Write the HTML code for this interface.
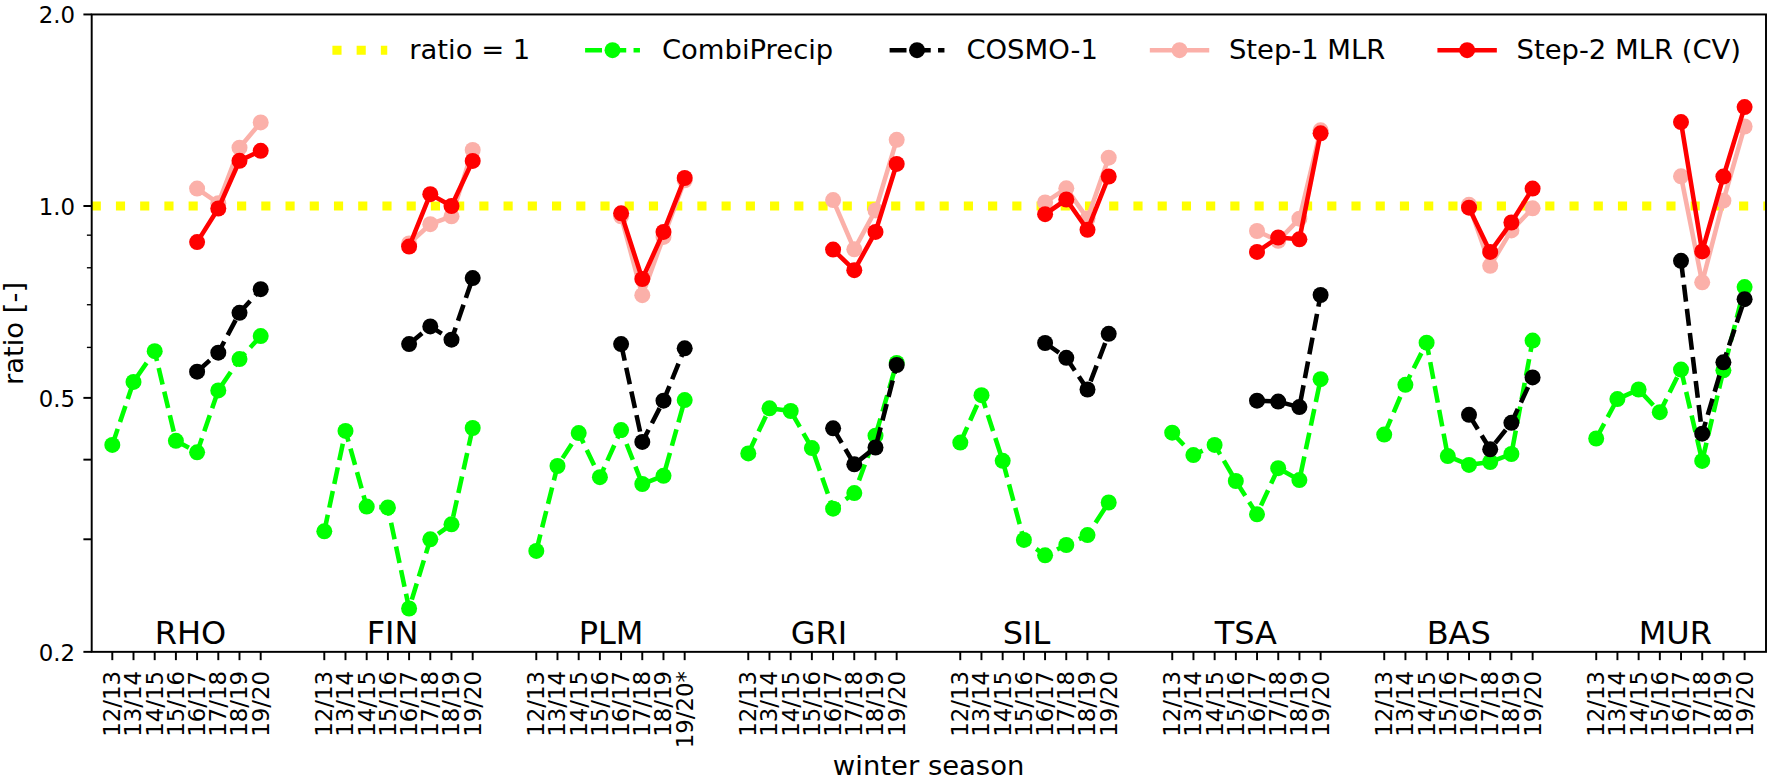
<!DOCTYPE html>
<html><head><meta charset="utf-8"><title>ratio by winter season</title>
<style>html,body{margin:0;padding:0;background:#fff;}body{width:1772px;height:781px;overflow:hidden;}svg{display:block;}</style>
</head><body>
<svg width="1772" height="781" viewBox="0 0 1772 781" font-family='"DejaVu Sans", "Liberation Sans", sans-serif' fill="#000">
<rect width="1772" height="781" fill="#fff"/>
<g id="plot">
<line x1="91.70" y1="206.0" x2="1766.00" y2="206.0" stroke="#ffff00" stroke-width="9.142" stroke-dasharray="9.142 15.084"/>
<polyline points="112.3,444.9 133.5,381.9 154.7,351.2 175.9,440.8 197.1,452.3 218.3,390.4 239.5,359.1 260.7,336.1" fill="none" stroke="#00ff00" stroke-width="4.571" stroke-linejoin="round" stroke-linecap="butt" stroke-dasharray="16.91 7.31"/>
<circle cx="112.3" cy="444.9" r="8.00" fill="#00ff00"/>
<circle cx="133.5" cy="381.9" r="8.00" fill="#00ff00"/>
<circle cx="154.7" cy="351.2" r="8.00" fill="#00ff00"/>
<circle cx="175.9" cy="440.8" r="8.00" fill="#00ff00"/>
<circle cx="197.1" cy="452.3" r="8.00" fill="#00ff00"/>
<circle cx="218.3" cy="390.4" r="8.00" fill="#00ff00"/>
<circle cx="239.5" cy="359.1" r="8.00" fill="#00ff00"/>
<circle cx="260.7" cy="336.1" r="8.00" fill="#00ff00"/>
<polyline points="324.3,531.3 345.5,430.9 366.7,506.6 387.9,507.5 409.1,608.5 430.3,539.3 451.5,524.3 472.7,428.0" fill="none" stroke="#00ff00" stroke-width="4.571" stroke-linejoin="round" stroke-linecap="butt" stroke-dasharray="16.91 7.31"/>
<circle cx="324.3" cy="531.3" r="8.00" fill="#00ff00"/>
<circle cx="345.5" cy="430.9" r="8.00" fill="#00ff00"/>
<circle cx="366.7" cy="506.6" r="8.00" fill="#00ff00"/>
<circle cx="387.9" cy="507.5" r="8.00" fill="#00ff00"/>
<circle cx="409.1" cy="608.5" r="8.00" fill="#00ff00"/>
<circle cx="430.3" cy="539.3" r="8.00" fill="#00ff00"/>
<circle cx="451.5" cy="524.3" r="8.00" fill="#00ff00"/>
<circle cx="472.7" cy="428.0" r="8.00" fill="#00ff00"/>
<polyline points="536.3,550.9 557.5,466.0 578.7,433.1 599.9,477.2 621.1,430.1 642.3,484.0 663.5,475.8 684.7,400.1" fill="none" stroke="#00ff00" stroke-width="4.571" stroke-linejoin="round" stroke-linecap="butt" stroke-dasharray="16.91 7.31"/>
<circle cx="536.3" cy="550.9" r="8.00" fill="#00ff00"/>
<circle cx="557.5" cy="466.0" r="8.00" fill="#00ff00"/>
<circle cx="578.7" cy="433.1" r="8.00" fill="#00ff00"/>
<circle cx="599.9" cy="477.2" r="8.00" fill="#00ff00"/>
<circle cx="621.1" cy="430.1" r="8.00" fill="#00ff00"/>
<circle cx="642.3" cy="484.0" r="8.00" fill="#00ff00"/>
<circle cx="663.5" cy="475.8" r="8.00" fill="#00ff00"/>
<circle cx="684.7" cy="400.1" r="8.00" fill="#00ff00"/>
<polyline points="748.3,453.4 769.5,408.3 790.7,411.0 811.9,448.1 833.1,508.7 854.3,493.1 875.5,435.7 896.7,363.0" fill="none" stroke="#00ff00" stroke-width="4.571" stroke-linejoin="round" stroke-linecap="butt" stroke-dasharray="16.91 7.31"/>
<circle cx="748.3" cy="453.4" r="8.00" fill="#00ff00"/>
<circle cx="769.5" cy="408.3" r="8.00" fill="#00ff00"/>
<circle cx="790.7" cy="411.0" r="8.00" fill="#00ff00"/>
<circle cx="811.9" cy="448.1" r="8.00" fill="#00ff00"/>
<circle cx="833.1" cy="508.7" r="8.00" fill="#00ff00"/>
<circle cx="854.3" cy="493.1" r="8.00" fill="#00ff00"/>
<circle cx="875.5" cy="435.7" r="8.00" fill="#00ff00"/>
<circle cx="896.7" cy="363.0" r="8.00" fill="#00ff00"/>
<polyline points="960.3,442.6 981.5,395.2 1002.7,460.8 1023.9,539.9 1045.1,555.3 1066.3,545.0 1087.5,535.1 1108.7,502.5" fill="none" stroke="#00ff00" stroke-width="4.571" stroke-linejoin="round" stroke-linecap="butt" stroke-dasharray="16.91 7.31"/>
<circle cx="960.3" cy="442.6" r="8.00" fill="#00ff00"/>
<circle cx="981.5" cy="395.2" r="8.00" fill="#00ff00"/>
<circle cx="1002.7" cy="460.8" r="8.00" fill="#00ff00"/>
<circle cx="1023.9" cy="539.9" r="8.00" fill="#00ff00"/>
<circle cx="1045.1" cy="555.3" r="8.00" fill="#00ff00"/>
<circle cx="1066.3" cy="545.0" r="8.00" fill="#00ff00"/>
<circle cx="1087.5" cy="535.1" r="8.00" fill="#00ff00"/>
<circle cx="1108.7" cy="502.5" r="8.00" fill="#00ff00"/>
<polyline points="1172.2,432.7 1193.4,455.1 1214.6,444.9 1235.8,481.0 1257.0,514.3 1278.2,468.2 1299.4,480.1 1320.6,379.2" fill="none" stroke="#00ff00" stroke-width="4.571" stroke-linejoin="round" stroke-linecap="butt" stroke-dasharray="16.91 7.31"/>
<circle cx="1172.2" cy="432.7" r="8.00" fill="#00ff00"/>
<circle cx="1193.4" cy="455.1" r="8.00" fill="#00ff00"/>
<circle cx="1214.6" cy="444.9" r="8.00" fill="#00ff00"/>
<circle cx="1235.8" cy="481.0" r="8.00" fill="#00ff00"/>
<circle cx="1257.0" cy="514.3" r="8.00" fill="#00ff00"/>
<circle cx="1278.2" cy="468.2" r="8.00" fill="#00ff00"/>
<circle cx="1299.4" cy="480.1" r="8.00" fill="#00ff00"/>
<circle cx="1320.6" cy="379.2" r="8.00" fill="#00ff00"/>
<polyline points="1384.2,434.6 1405.4,384.8 1426.6,342.7 1447.8,456.1 1469.0,464.9 1490.2,462.0 1511.4,454.0 1532.6,340.6" fill="none" stroke="#00ff00" stroke-width="4.571" stroke-linejoin="round" stroke-linecap="butt" stroke-dasharray="16.91 7.31"/>
<circle cx="1384.2" cy="434.6" r="8.00" fill="#00ff00"/>
<circle cx="1405.4" cy="384.8" r="8.00" fill="#00ff00"/>
<circle cx="1426.6" cy="342.7" r="8.00" fill="#00ff00"/>
<circle cx="1447.8" cy="456.1" r="8.00" fill="#00ff00"/>
<circle cx="1469.0" cy="464.9" r="8.00" fill="#00ff00"/>
<circle cx="1490.2" cy="462.0" r="8.00" fill="#00ff00"/>
<circle cx="1511.4" cy="454.0" r="8.00" fill="#00ff00"/>
<circle cx="1532.6" cy="340.6" r="8.00" fill="#00ff00"/>
<polyline points="1596.2,438.5 1617.4,399.1 1638.6,389.5 1659.8,412.2 1681.0,369.6 1702.2,460.9 1723.4,370.3 1744.6,287.1" fill="none" stroke="#00ff00" stroke-width="4.571" stroke-linejoin="round" stroke-linecap="butt" stroke-dasharray="16.91 7.31"/>
<circle cx="1596.2" cy="438.5" r="8.00" fill="#00ff00"/>
<circle cx="1617.4" cy="399.1" r="8.00" fill="#00ff00"/>
<circle cx="1638.6" cy="389.5" r="8.00" fill="#00ff00"/>
<circle cx="1659.8" cy="412.2" r="8.00" fill="#00ff00"/>
<circle cx="1681.0" cy="369.6" r="8.00" fill="#00ff00"/>
<circle cx="1702.2" cy="460.9" r="8.00" fill="#00ff00"/>
<circle cx="1723.4" cy="370.3" r="8.00" fill="#00ff00"/>
<circle cx="1744.6" cy="287.1" r="8.00" fill="#00ff00"/>
<polyline points="197.1,371.7 218.3,352.7 239.5,312.8 260.7,289.2" fill="none" stroke="#000000" stroke-width="4.571" stroke-linejoin="round" stroke-linecap="butt" stroke-dasharray="16.91 7.31"/>
<circle cx="197.1" cy="371.7" r="8.00" fill="#000000"/>
<circle cx="218.3" cy="352.7" r="8.00" fill="#000000"/>
<circle cx="239.5" cy="312.8" r="8.00" fill="#000000"/>
<circle cx="260.7" cy="289.2" r="8.00" fill="#000000"/>
<polyline points="409.1,344.1 430.3,326.4 451.5,339.7 472.7,278.1" fill="none" stroke="#000000" stroke-width="4.571" stroke-linejoin="round" stroke-linecap="butt" stroke-dasharray="16.91 7.31"/>
<circle cx="409.1" cy="344.1" r="8.00" fill="#000000"/>
<circle cx="430.3" cy="326.4" r="8.00" fill="#000000"/>
<circle cx="451.5" cy="339.7" r="8.00" fill="#000000"/>
<circle cx="472.7" cy="278.1" r="8.00" fill="#000000"/>
<polyline points="621.1,344.1 642.3,441.9 663.5,400.7 684.7,348.3" fill="none" stroke="#000000" stroke-width="4.571" stroke-linejoin="round" stroke-linecap="butt" stroke-dasharray="16.91 7.31"/>
<circle cx="621.1" cy="344.1" r="8.00" fill="#000000"/>
<circle cx="642.3" cy="441.9" r="8.00" fill="#000000"/>
<circle cx="663.5" cy="400.7" r="8.00" fill="#000000"/>
<circle cx="684.7" cy="348.3" r="8.00" fill="#000000"/>
<polyline points="833.1,428.3 854.3,464.3 875.5,447.5 896.7,365.0" fill="none" stroke="#000000" stroke-width="4.571" stroke-linejoin="round" stroke-linecap="butt" stroke-dasharray="16.91 7.31"/>
<circle cx="833.1" cy="428.3" r="8.00" fill="#000000"/>
<circle cx="854.3" cy="464.3" r="8.00" fill="#000000"/>
<circle cx="875.5" cy="447.5" r="8.00" fill="#000000"/>
<circle cx="896.7" cy="365.0" r="8.00" fill="#000000"/>
<polyline points="1045.1,343.0 1066.3,357.8 1087.5,389.5 1108.7,333.8" fill="none" stroke="#000000" stroke-width="4.571" stroke-linejoin="round" stroke-linecap="butt" stroke-dasharray="16.91 7.31"/>
<circle cx="1045.1" cy="343.0" r="8.00" fill="#000000"/>
<circle cx="1066.3" cy="357.8" r="8.00" fill="#000000"/>
<circle cx="1087.5" cy="389.5" r="8.00" fill="#000000"/>
<circle cx="1108.7" cy="333.8" r="8.00" fill="#000000"/>
<polyline points="1257.0,400.7 1278.2,401.6 1299.4,407.1 1320.6,295.0" fill="none" stroke="#000000" stroke-width="4.571" stroke-linejoin="round" stroke-linecap="butt" stroke-dasharray="16.91 7.31"/>
<circle cx="1257.0" cy="400.7" r="8.00" fill="#000000"/>
<circle cx="1278.2" cy="401.6" r="8.00" fill="#000000"/>
<circle cx="1299.4" cy="407.1" r="8.00" fill="#000000"/>
<circle cx="1320.6" cy="295.0" r="8.00" fill="#000000"/>
<polyline points="1469.0,414.8 1490.2,449.3 1511.4,422.8 1532.6,377.4" fill="none" stroke="#000000" stroke-width="4.571" stroke-linejoin="round" stroke-linecap="butt" stroke-dasharray="16.91 7.31"/>
<circle cx="1469.0" cy="414.8" r="8.00" fill="#000000"/>
<circle cx="1490.2" cy="449.3" r="8.00" fill="#000000"/>
<circle cx="1511.4" cy="422.8" r="8.00" fill="#000000"/>
<circle cx="1532.6" cy="377.4" r="8.00" fill="#000000"/>
<polyline points="1681.0,260.8 1702.2,433.7 1723.4,362.3 1744.6,299.2" fill="none" stroke="#000000" stroke-width="4.571" stroke-linejoin="round" stroke-linecap="butt" stroke-dasharray="16.91 7.31"/>
<circle cx="1681.0" cy="260.8" r="8.00" fill="#000000"/>
<circle cx="1702.2" cy="433.7" r="8.00" fill="#000000"/>
<circle cx="1723.4" cy="362.3" r="8.00" fill="#000000"/>
<circle cx="1744.6" cy="299.2" r="8.00" fill="#000000"/>
<polyline points="197.1,188.6 218.3,203.2 239.5,147.7 260.7,122.4" fill="none" stroke="#fbb0a9" stroke-width="4.571" stroke-linejoin="round" stroke-linecap="square"/>
<circle cx="197.1" cy="188.6" r="8.00" fill="#fbb0a9"/>
<circle cx="218.3" cy="203.2" r="8.00" fill="#fbb0a9"/>
<circle cx="239.5" cy="147.7" r="8.00" fill="#fbb0a9"/>
<circle cx="260.7" cy="122.4" r="8.00" fill="#fbb0a9"/>
<polyline points="409.1,243.4 430.3,224.2 451.5,216.3 472.7,150.0" fill="none" stroke="#fbb0a9" stroke-width="4.571" stroke-linejoin="round" stroke-linecap="square"/>
<circle cx="409.1" cy="243.4" r="8.00" fill="#fbb0a9"/>
<circle cx="430.3" cy="224.2" r="8.00" fill="#fbb0a9"/>
<circle cx="451.5" cy="216.3" r="8.00" fill="#fbb0a9"/>
<circle cx="472.7" cy="150.0" r="8.00" fill="#fbb0a9"/>
<polyline points="621.1,216.3 642.3,295.2 663.5,236.9 684.7,180.3" fill="none" stroke="#fbb0a9" stroke-width="4.571" stroke-linejoin="round" stroke-linecap="square"/>
<circle cx="621.1" cy="216.3" r="8.00" fill="#fbb0a9"/>
<circle cx="642.3" cy="295.2" r="8.00" fill="#fbb0a9"/>
<circle cx="663.5" cy="236.9" r="8.00" fill="#fbb0a9"/>
<circle cx="684.7" cy="180.3" r="8.00" fill="#fbb0a9"/>
<polyline points="833.1,200.1 854.3,249.3 875.5,210.4 896.7,139.8" fill="none" stroke="#fbb0a9" stroke-width="4.571" stroke-linejoin="round" stroke-linecap="square"/>
<circle cx="833.1" cy="200.1" r="8.00" fill="#fbb0a9"/>
<circle cx="854.3" cy="249.3" r="8.00" fill="#fbb0a9"/>
<circle cx="875.5" cy="210.4" r="8.00" fill="#fbb0a9"/>
<circle cx="896.7" cy="139.8" r="8.00" fill="#fbb0a9"/>
<polyline points="1045.1,202.4 1066.3,188.3 1087.5,218.6 1108.7,157.7" fill="none" stroke="#fbb0a9" stroke-width="4.571" stroke-linejoin="round" stroke-linecap="square"/>
<circle cx="1045.1" cy="202.4" r="8.00" fill="#fbb0a9"/>
<circle cx="1066.3" cy="188.3" r="8.00" fill="#fbb0a9"/>
<circle cx="1087.5" cy="218.6" r="8.00" fill="#fbb0a9"/>
<circle cx="1108.7" cy="157.7" r="8.00" fill="#fbb0a9"/>
<polyline points="1257.0,231.0 1278.2,240.8 1299.4,218.7 1320.6,130.3" fill="none" stroke="#fbb0a9" stroke-width="4.571" stroke-linejoin="round" stroke-linecap="square"/>
<circle cx="1257.0" cy="231.0" r="8.00" fill="#fbb0a9"/>
<circle cx="1278.2" cy="240.8" r="8.00" fill="#fbb0a9"/>
<circle cx="1299.4" cy="218.7" r="8.00" fill="#fbb0a9"/>
<circle cx="1320.6" cy="130.3" r="8.00" fill="#fbb0a9"/>
<polyline points="1469.0,204.8 1490.2,265.8 1511.4,230.4 1532.6,208.3" fill="none" stroke="#fbb0a9" stroke-width="4.571" stroke-linejoin="round" stroke-linecap="square"/>
<circle cx="1469.0" cy="204.8" r="8.00" fill="#fbb0a9"/>
<circle cx="1490.2" cy="265.8" r="8.00" fill="#fbb0a9"/>
<circle cx="1511.4" cy="230.4" r="8.00" fill="#fbb0a9"/>
<circle cx="1532.6" cy="208.3" r="8.00" fill="#fbb0a9"/>
<polyline points="1681.0,176.3 1702.2,282.3 1723.4,200.7 1744.6,126.5" fill="none" stroke="#fbb0a9" stroke-width="4.571" stroke-linejoin="round" stroke-linecap="square"/>
<circle cx="1681.0" cy="176.3" r="8.00" fill="#fbb0a9"/>
<circle cx="1702.2" cy="282.3" r="8.00" fill="#fbb0a9"/>
<circle cx="1723.4" cy="200.7" r="8.00" fill="#fbb0a9"/>
<circle cx="1744.6" cy="126.5" r="8.00" fill="#fbb0a9"/>
<polyline points="197.1,242.1 218.3,208.5 239.5,160.8 260.7,150.8" fill="none" stroke="#ff0000" stroke-width="4.571" stroke-linejoin="round" stroke-linecap="square"/>
<circle cx="197.1" cy="242.1" r="8.00" fill="#ff0000"/>
<circle cx="218.3" cy="208.5" r="8.00" fill="#ff0000"/>
<circle cx="239.5" cy="160.8" r="8.00" fill="#ff0000"/>
<circle cx="260.7" cy="150.8" r="8.00" fill="#ff0000"/>
<polyline points="409.1,246.6 430.3,194.2 451.5,206.0 472.7,160.9" fill="none" stroke="#ff0000" stroke-width="4.571" stroke-linejoin="round" stroke-linecap="square"/>
<circle cx="409.1" cy="246.6" r="8.00" fill="#ff0000"/>
<circle cx="430.3" cy="194.2" r="8.00" fill="#ff0000"/>
<circle cx="451.5" cy="206.0" r="8.00" fill="#ff0000"/>
<circle cx="472.7" cy="160.9" r="8.00" fill="#ff0000"/>
<polyline points="621.1,213.3 642.3,279.0 663.5,231.9 684.7,178.0" fill="none" stroke="#ff0000" stroke-width="4.571" stroke-linejoin="round" stroke-linecap="square"/>
<circle cx="621.1" cy="213.3" r="8.00" fill="#ff0000"/>
<circle cx="642.3" cy="279.0" r="8.00" fill="#ff0000"/>
<circle cx="663.5" cy="231.9" r="8.00" fill="#ff0000"/>
<circle cx="684.7" cy="178.0" r="8.00" fill="#ff0000"/>
<polyline points="833.1,249.6 854.3,270.2 875.5,231.9 896.7,163.9" fill="none" stroke="#ff0000" stroke-width="4.571" stroke-linejoin="round" stroke-linecap="square"/>
<circle cx="833.1" cy="249.6" r="8.00" fill="#ff0000"/>
<circle cx="854.3" cy="270.2" r="8.00" fill="#ff0000"/>
<circle cx="875.5" cy="231.9" r="8.00" fill="#ff0000"/>
<circle cx="896.7" cy="163.9" r="8.00" fill="#ff0000"/>
<polyline points="1045.1,214.2 1066.3,199.5 1087.5,229.8 1108.7,176.5" fill="none" stroke="#ff0000" stroke-width="4.571" stroke-linejoin="round" stroke-linecap="square"/>
<circle cx="1045.1" cy="214.2" r="8.00" fill="#ff0000"/>
<circle cx="1066.3" cy="199.5" r="8.00" fill="#ff0000"/>
<circle cx="1087.5" cy="229.8" r="8.00" fill="#ff0000"/>
<circle cx="1108.7" cy="176.5" r="8.00" fill="#ff0000"/>
<polyline points="1257.0,251.9 1278.2,237.5 1299.4,239.3 1320.6,133.3" fill="none" stroke="#ff0000" stroke-width="4.571" stroke-linejoin="round" stroke-linecap="square"/>
<circle cx="1257.0" cy="251.9" r="8.00" fill="#ff0000"/>
<circle cx="1278.2" cy="237.5" r="8.00" fill="#ff0000"/>
<circle cx="1299.4" cy="239.3" r="8.00" fill="#ff0000"/>
<circle cx="1320.6" cy="133.3" r="8.00" fill="#ff0000"/>
<polyline points="1469.0,207.7 1490.2,251.9 1511.4,222.5 1532.6,188.6" fill="none" stroke="#ff0000" stroke-width="4.571" stroke-linejoin="round" stroke-linecap="square"/>
<circle cx="1469.0" cy="207.7" r="8.00" fill="#ff0000"/>
<circle cx="1490.2" cy="251.9" r="8.00" fill="#ff0000"/>
<circle cx="1511.4" cy="222.5" r="8.00" fill="#ff0000"/>
<circle cx="1532.6" cy="188.6" r="8.00" fill="#ff0000"/>
<polyline points="1681.0,122.1 1702.2,251.4 1723.4,176.6 1744.6,107.1" fill="none" stroke="#ff0000" stroke-width="4.571" stroke-linejoin="round" stroke-linecap="square"/>
<circle cx="1681.0" cy="122.1" r="8.00" fill="#ff0000"/>
<circle cx="1702.2" cy="251.4" r="8.00" fill="#ff0000"/>
<circle cx="1723.4" cy="176.6" r="8.00" fill="#ff0000"/>
<circle cx="1744.6" cy="107.1" r="8.00" fill="#ff0000"/>
</g>
<rect x="91.70" y="14.45" width="1674.30" height="637.40" fill="none" stroke="#000" stroke-width="1.95"/>
<line x1="83.40" y1="14.45" x2="91.70" y2="14.45" stroke="#000" stroke-width="1.95"/>
<line x1="83.40" y1="206.00" x2="91.70" y2="206.00" stroke="#000" stroke-width="1.95"/>
<line x1="83.40" y1="397.88" x2="91.70" y2="397.88" stroke="#000" stroke-width="1.95"/>
<line x1="83.40" y1="459.65" x2="91.70" y2="459.65" stroke="#000" stroke-width="1.95"/>
<line x1="83.40" y1="539.28" x2="91.70" y2="539.28" stroke="#000" stroke-width="1.95"/>
<line x1="83.40" y1="651.85" x2="91.70" y2="651.85" stroke="#000" stroke-width="1.95"/>
<line x1="86.90" y1="235.17" x2="91.70" y2="235.17" stroke="#000" stroke-width="1.37"/>
<line x1="86.90" y1="267.77" x2="91.70" y2="267.77" stroke="#000" stroke-width="1.37"/>
<line x1="86.90" y1="304.73" x2="91.70" y2="304.73" stroke="#000" stroke-width="1.37"/>
<line x1="86.90" y1="347.41" x2="91.70" y2="347.41" stroke="#000" stroke-width="1.37"/>
<text x="75.1" y="23.25" font-size="22.85" text-anchor="end">2.0</text>
<text x="75.1" y="214.80" font-size="22.85" text-anchor="end">1.0</text>
<text x="75.1" y="406.68" font-size="22.85" text-anchor="end">0.5</text>
<text x="75.1" y="660.65" font-size="22.85" text-anchor="end">0.2</text>
<line x1="112.30" y1="651.85" x2="112.30" y2="660.15" stroke="#000" stroke-width="1.95"/>
<text transform="translate(120.20,671.0) rotate(-90)" font-size="22.85" text-anchor="end">12/13</text>
<line x1="133.50" y1="651.85" x2="133.50" y2="660.15" stroke="#000" stroke-width="1.95"/>
<text transform="translate(141.40,671.0) rotate(-90)" font-size="22.85" text-anchor="end">13/14</text>
<line x1="154.70" y1="651.85" x2="154.70" y2="660.15" stroke="#000" stroke-width="1.95"/>
<text transform="translate(162.60,671.0) rotate(-90)" font-size="22.85" text-anchor="end">14/15</text>
<line x1="175.90" y1="651.85" x2="175.90" y2="660.15" stroke="#000" stroke-width="1.95"/>
<text transform="translate(183.80,671.0) rotate(-90)" font-size="22.85" text-anchor="end">15/16</text>
<line x1="197.10" y1="651.85" x2="197.10" y2="660.15" stroke="#000" stroke-width="1.95"/>
<text transform="translate(205.00,671.0) rotate(-90)" font-size="22.85" text-anchor="end">16/17</text>
<line x1="218.30" y1="651.85" x2="218.30" y2="660.15" stroke="#000" stroke-width="1.95"/>
<text transform="translate(226.20,671.0) rotate(-90)" font-size="22.85" text-anchor="end">17/18</text>
<line x1="239.49" y1="651.85" x2="239.49" y2="660.15" stroke="#000" stroke-width="1.95"/>
<text transform="translate(247.39,671.0) rotate(-90)" font-size="22.85" text-anchor="end">18/19</text>
<line x1="260.69" y1="651.85" x2="260.69" y2="660.15" stroke="#000" stroke-width="1.95"/>
<text transform="translate(268.59,671.0) rotate(-90)" font-size="22.85" text-anchor="end">19/20</text>
<text x="154.70" y="644.4" font-size="32.00">RHO</text>
<line x1="324.29" y1="651.85" x2="324.29" y2="660.15" stroke="#000" stroke-width="1.95"/>
<text transform="translate(332.19,671.0) rotate(-90)" font-size="22.85" text-anchor="end">12/13</text>
<line x1="345.49" y1="651.85" x2="345.49" y2="660.15" stroke="#000" stroke-width="1.95"/>
<text transform="translate(353.39,671.0) rotate(-90)" font-size="22.85" text-anchor="end">13/14</text>
<line x1="366.69" y1="651.85" x2="366.69" y2="660.15" stroke="#000" stroke-width="1.95"/>
<text transform="translate(374.59,671.0) rotate(-90)" font-size="22.85" text-anchor="end">14/15</text>
<line x1="387.89" y1="651.85" x2="387.89" y2="660.15" stroke="#000" stroke-width="1.95"/>
<text transform="translate(395.79,671.0) rotate(-90)" font-size="22.85" text-anchor="end">15/16</text>
<line x1="409.09" y1="651.85" x2="409.09" y2="660.15" stroke="#000" stroke-width="1.95"/>
<text transform="translate(416.99,671.0) rotate(-90)" font-size="22.85" text-anchor="end">16/17</text>
<line x1="430.29" y1="651.85" x2="430.29" y2="660.15" stroke="#000" stroke-width="1.95"/>
<text transform="translate(438.19,671.0) rotate(-90)" font-size="22.85" text-anchor="end">17/18</text>
<line x1="451.48" y1="651.85" x2="451.48" y2="660.15" stroke="#000" stroke-width="1.95"/>
<text transform="translate(459.38,671.0) rotate(-90)" font-size="22.85" text-anchor="end">18/19</text>
<line x1="472.68" y1="651.85" x2="472.68" y2="660.15" stroke="#000" stroke-width="1.95"/>
<text transform="translate(480.58,671.0) rotate(-90)" font-size="22.85" text-anchor="end">19/20</text>
<text x="366.69" y="644.4" font-size="32.00">FIN</text>
<line x1="536.28" y1="651.85" x2="536.28" y2="660.15" stroke="#000" stroke-width="1.95"/>
<text transform="translate(544.18,671.0) rotate(-90)" font-size="22.85" text-anchor="end">12/13</text>
<line x1="557.48" y1="651.85" x2="557.48" y2="660.15" stroke="#000" stroke-width="1.95"/>
<text transform="translate(565.38,671.0) rotate(-90)" font-size="22.85" text-anchor="end">13/14</text>
<line x1="578.68" y1="651.85" x2="578.68" y2="660.15" stroke="#000" stroke-width="1.95"/>
<text transform="translate(586.58,671.0) rotate(-90)" font-size="22.85" text-anchor="end">14/15</text>
<line x1="599.88" y1="651.85" x2="599.88" y2="660.15" stroke="#000" stroke-width="1.95"/>
<text transform="translate(607.78,671.0) rotate(-90)" font-size="22.85" text-anchor="end">15/16</text>
<line x1="621.08" y1="651.85" x2="621.08" y2="660.15" stroke="#000" stroke-width="1.95"/>
<text transform="translate(628.98,671.0) rotate(-90)" font-size="22.85" text-anchor="end">16/17</text>
<line x1="642.27" y1="651.85" x2="642.27" y2="660.15" stroke="#000" stroke-width="1.95"/>
<text transform="translate(650.17,671.0) rotate(-90)" font-size="22.85" text-anchor="end">17/18</text>
<line x1="663.47" y1="651.85" x2="663.47" y2="660.15" stroke="#000" stroke-width="1.95"/>
<text transform="translate(671.37,671.0) rotate(-90)" font-size="22.85" text-anchor="end">18/19</text>
<line x1="684.67" y1="651.85" x2="684.67" y2="660.15" stroke="#000" stroke-width="1.95"/>
<text transform="translate(692.57,671.0) rotate(-90)" font-size="22.85" text-anchor="end">19/20*</text>
<text x="578.68" y="644.4" font-size="32.00">PLM</text>
<line x1="748.27" y1="651.85" x2="748.27" y2="660.15" stroke="#000" stroke-width="1.95"/>
<text transform="translate(756.17,671.0) rotate(-90)" font-size="22.85" text-anchor="end">12/13</text>
<line x1="769.47" y1="651.85" x2="769.47" y2="660.15" stroke="#000" stroke-width="1.95"/>
<text transform="translate(777.37,671.0) rotate(-90)" font-size="22.85" text-anchor="end">13/14</text>
<line x1="790.67" y1="651.85" x2="790.67" y2="660.15" stroke="#000" stroke-width="1.95"/>
<text transform="translate(798.57,671.0) rotate(-90)" font-size="22.85" text-anchor="end">14/15</text>
<line x1="811.87" y1="651.85" x2="811.87" y2="660.15" stroke="#000" stroke-width="1.95"/>
<text transform="translate(819.77,671.0) rotate(-90)" font-size="22.85" text-anchor="end">15/16</text>
<line x1="833.07" y1="651.85" x2="833.07" y2="660.15" stroke="#000" stroke-width="1.95"/>
<text transform="translate(840.97,671.0) rotate(-90)" font-size="22.85" text-anchor="end">16/17</text>
<line x1="854.26" y1="651.85" x2="854.26" y2="660.15" stroke="#000" stroke-width="1.95"/>
<text transform="translate(862.16,671.0) rotate(-90)" font-size="22.85" text-anchor="end">17/18</text>
<line x1="875.46" y1="651.85" x2="875.46" y2="660.15" stroke="#000" stroke-width="1.95"/>
<text transform="translate(883.36,671.0) rotate(-90)" font-size="22.85" text-anchor="end">18/19</text>
<line x1="896.66" y1="651.85" x2="896.66" y2="660.15" stroke="#000" stroke-width="1.95"/>
<text transform="translate(904.56,671.0) rotate(-90)" font-size="22.85" text-anchor="end">19/20</text>
<text x="790.67" y="644.4" font-size="32.00">GRI</text>
<line x1="960.26" y1="651.85" x2="960.26" y2="660.15" stroke="#000" stroke-width="1.95"/>
<text transform="translate(968.16,671.0) rotate(-90)" font-size="22.85" text-anchor="end">12/13</text>
<line x1="981.46" y1="651.85" x2="981.46" y2="660.15" stroke="#000" stroke-width="1.95"/>
<text transform="translate(989.36,671.0) rotate(-90)" font-size="22.85" text-anchor="end">13/14</text>
<line x1="1002.66" y1="651.85" x2="1002.66" y2="660.15" stroke="#000" stroke-width="1.95"/>
<text transform="translate(1010.56,671.0) rotate(-90)" font-size="22.85" text-anchor="end">14/15</text>
<line x1="1023.86" y1="651.85" x2="1023.86" y2="660.15" stroke="#000" stroke-width="1.95"/>
<text transform="translate(1031.76,671.0) rotate(-90)" font-size="22.85" text-anchor="end">15/16</text>
<line x1="1045.06" y1="651.85" x2="1045.06" y2="660.15" stroke="#000" stroke-width="1.95"/>
<text transform="translate(1052.96,671.0) rotate(-90)" font-size="22.85" text-anchor="end">16/17</text>
<line x1="1066.26" y1="651.85" x2="1066.26" y2="660.15" stroke="#000" stroke-width="1.95"/>
<text transform="translate(1074.16,671.0) rotate(-90)" font-size="22.85" text-anchor="end">17/18</text>
<line x1="1087.45" y1="651.85" x2="1087.45" y2="660.15" stroke="#000" stroke-width="1.95"/>
<text transform="translate(1095.35,671.0) rotate(-90)" font-size="22.85" text-anchor="end">18/19</text>
<line x1="1108.65" y1="651.85" x2="1108.65" y2="660.15" stroke="#000" stroke-width="1.95"/>
<text transform="translate(1116.55,671.0) rotate(-90)" font-size="22.85" text-anchor="end">19/20</text>
<text x="1002.66" y="644.4" font-size="32.00">SIL</text>
<line x1="1172.25" y1="651.85" x2="1172.25" y2="660.15" stroke="#000" stroke-width="1.95"/>
<text transform="translate(1180.15,671.0) rotate(-90)" font-size="22.85" text-anchor="end">12/13</text>
<line x1="1193.45" y1="651.85" x2="1193.45" y2="660.15" stroke="#000" stroke-width="1.95"/>
<text transform="translate(1201.35,671.0) rotate(-90)" font-size="22.85" text-anchor="end">13/14</text>
<line x1="1214.65" y1="651.85" x2="1214.65" y2="660.15" stroke="#000" stroke-width="1.95"/>
<text transform="translate(1222.55,671.0) rotate(-90)" font-size="22.85" text-anchor="end">14/15</text>
<line x1="1235.85" y1="651.85" x2="1235.85" y2="660.15" stroke="#000" stroke-width="1.95"/>
<text transform="translate(1243.75,671.0) rotate(-90)" font-size="22.85" text-anchor="end">15/16</text>
<line x1="1257.05" y1="651.85" x2="1257.05" y2="660.15" stroke="#000" stroke-width="1.95"/>
<text transform="translate(1264.95,671.0) rotate(-90)" font-size="22.85" text-anchor="end">16/17</text>
<line x1="1278.25" y1="651.85" x2="1278.25" y2="660.15" stroke="#000" stroke-width="1.95"/>
<text transform="translate(1286.15,671.0) rotate(-90)" font-size="22.85" text-anchor="end">17/18</text>
<line x1="1299.44" y1="651.85" x2="1299.44" y2="660.15" stroke="#000" stroke-width="1.95"/>
<text transform="translate(1307.34,671.0) rotate(-90)" font-size="22.85" text-anchor="end">18/19</text>
<line x1="1320.64" y1="651.85" x2="1320.64" y2="660.15" stroke="#000" stroke-width="1.95"/>
<text transform="translate(1328.54,671.0) rotate(-90)" font-size="22.85" text-anchor="end">19/20</text>
<text x="1214.65" y="644.4" font-size="32.00">TSA</text>
<line x1="1384.24" y1="651.85" x2="1384.24" y2="660.15" stroke="#000" stroke-width="1.95"/>
<text transform="translate(1392.14,671.0) rotate(-90)" font-size="22.85" text-anchor="end">12/13</text>
<line x1="1405.44" y1="651.85" x2="1405.44" y2="660.15" stroke="#000" stroke-width="1.95"/>
<text transform="translate(1413.34,671.0) rotate(-90)" font-size="22.85" text-anchor="end">13/14</text>
<line x1="1426.64" y1="651.85" x2="1426.64" y2="660.15" stroke="#000" stroke-width="1.95"/>
<text transform="translate(1434.54,671.0) rotate(-90)" font-size="22.85" text-anchor="end">14/15</text>
<line x1="1447.84" y1="651.85" x2="1447.84" y2="660.15" stroke="#000" stroke-width="1.95"/>
<text transform="translate(1455.74,671.0) rotate(-90)" font-size="22.85" text-anchor="end">15/16</text>
<line x1="1469.04" y1="651.85" x2="1469.04" y2="660.15" stroke="#000" stroke-width="1.95"/>
<text transform="translate(1476.94,671.0) rotate(-90)" font-size="22.85" text-anchor="end">16/17</text>
<line x1="1490.24" y1="651.85" x2="1490.24" y2="660.15" stroke="#000" stroke-width="1.95"/>
<text transform="translate(1498.14,671.0) rotate(-90)" font-size="22.85" text-anchor="end">17/18</text>
<line x1="1511.43" y1="651.85" x2="1511.43" y2="660.15" stroke="#000" stroke-width="1.95"/>
<text transform="translate(1519.33,671.0) rotate(-90)" font-size="22.85" text-anchor="end">18/19</text>
<line x1="1532.63" y1="651.85" x2="1532.63" y2="660.15" stroke="#000" stroke-width="1.95"/>
<text transform="translate(1540.53,671.0) rotate(-90)" font-size="22.85" text-anchor="end">19/20</text>
<text x="1426.64" y="644.4" font-size="32.00">BAS</text>
<line x1="1596.23" y1="651.85" x2="1596.23" y2="660.15" stroke="#000" stroke-width="1.95"/>
<text transform="translate(1604.13,671.0) rotate(-90)" font-size="22.85" text-anchor="end">12/13</text>
<line x1="1617.43" y1="651.85" x2="1617.43" y2="660.15" stroke="#000" stroke-width="1.95"/>
<text transform="translate(1625.33,671.0) rotate(-90)" font-size="22.85" text-anchor="end">13/14</text>
<line x1="1638.63" y1="651.85" x2="1638.63" y2="660.15" stroke="#000" stroke-width="1.95"/>
<text transform="translate(1646.53,671.0) rotate(-90)" font-size="22.85" text-anchor="end">14/15</text>
<line x1="1659.83" y1="651.85" x2="1659.83" y2="660.15" stroke="#000" stroke-width="1.95"/>
<text transform="translate(1667.73,671.0) rotate(-90)" font-size="22.85" text-anchor="end">15/16</text>
<line x1="1681.03" y1="651.85" x2="1681.03" y2="660.15" stroke="#000" stroke-width="1.95"/>
<text transform="translate(1688.93,671.0) rotate(-90)" font-size="22.85" text-anchor="end">16/17</text>
<line x1="1702.23" y1="651.85" x2="1702.23" y2="660.15" stroke="#000" stroke-width="1.95"/>
<text transform="translate(1710.13,671.0) rotate(-90)" font-size="22.85" text-anchor="end">17/18</text>
<line x1="1723.42" y1="651.85" x2="1723.42" y2="660.15" stroke="#000" stroke-width="1.95"/>
<text transform="translate(1731.32,671.0) rotate(-90)" font-size="22.85" text-anchor="end">18/19</text>
<line x1="1744.62" y1="651.85" x2="1744.62" y2="660.15" stroke="#000" stroke-width="1.95"/>
<text transform="translate(1752.52,671.0) rotate(-90)" font-size="22.85" text-anchor="end">19/20</text>
<text x="1638.63" y="644.4" font-size="32.00">MUR</text>
<text x="928.6" y="774.9" font-size="27.43" text-anchor="middle">winter season</text>
<text transform="translate(23.2,333.5) rotate(-90)" font-size="27.43" text-anchor="middle">ratio [-]</text>
<line x1="332.40" y1="50.2" x2="387.25" y2="50.2" stroke="#ffff00" stroke-width="9.142" stroke-dasharray="9.142 15.084"/>
<text x="409.19" y="59.4" font-size="27.43">ratio = 1</text>
<line x1="585.10" y1="50.2" x2="639.95" y2="50.2" stroke="#00ff00" stroke-width="4.571" stroke-linecap="butt" stroke-dasharray="16.91 7.31"/>
<circle cx="612.53" cy="50.2" r="8.00" fill="#00ff00"/>
<text x="661.89" y="59.4" font-size="27.43">CombiPrecip</text>
<line x1="889.60" y1="50.2" x2="944.45" y2="50.2" stroke="#000000" stroke-width="4.571" stroke-linecap="butt" stroke-dasharray="16.91 7.31"/>
<circle cx="917.03" cy="50.2" r="8.00" fill="#000000"/>
<text x="966.39" y="59.4" font-size="27.43">COSMO-1</text>
<line x1="1152.10" y1="50.2" x2="1206.95" y2="50.2" stroke="#fbb0a9" stroke-width="4.571" stroke-linecap="square"/>
<circle cx="1179.53" cy="50.2" r="8.00" fill="#fbb0a9"/>
<text x="1228.89" y="59.4" font-size="27.43">Step-1 MLR</text>
<line x1="1439.70" y1="50.2" x2="1494.55" y2="50.2" stroke="#ff0000" stroke-width="4.571" stroke-linecap="square"/>
<circle cx="1467.13" cy="50.2" r="8.00" fill="#ff0000"/>
<text x="1516.49" y="59.4" font-size="27.43">Step-2 MLR (CV)</text>
</svg>
</body></html>
